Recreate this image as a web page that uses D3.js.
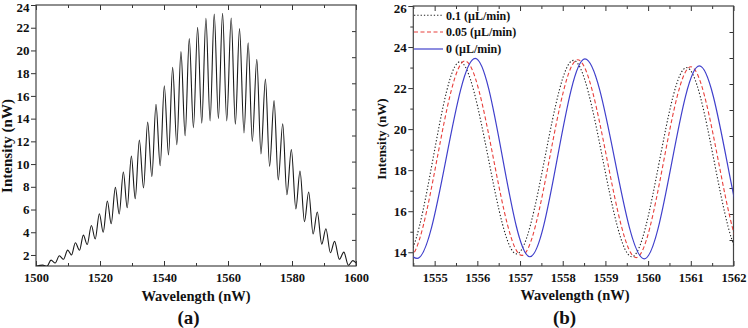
<!DOCTYPE html>
<html><head><meta charset="utf-8">
<script src="https://cdn.jsdelivr.net/npm/d3@7"></script>
<style>
body{margin:0;background:#fff}
svg{display:block}
text{font-family:"Liberation Serif","Times New Roman",serif;font-weight:bold;fill:#111}
</style></head><body>
<svg id="c" width="748" height="328"></svg>
<script>
// ---------- Panel (a) data: extrema of the interference spectrum ----------
const aPeakWl = [1502.1,1504.7,1507.3,1509.9,1512.3,1514.8,1517.3,1519.8,1522.3,1524.8,1527.3,1529.8,1532.3,1534.9,1537.5,1540.1,1542.7,1545.3,1547.9,1550.5,1553.1,1555.7,1558.3,1561.0,1563.6,1566.3,1569.0,1571.7,1574.4,1577.1,1579.8,1582.5,1585.2,1587.9,1590.6,1593.3,1596.2,1599.0];
const aPeakI  = [1.11,1.55,1.93,2.43,3.08,3.75,4.6,5.63,6.75,7.95,9.3,10.71,12.12,13.7,15.26,16.9,18.51,19.9,21.04,22.03,22.83,23.2,23.27,22.86,21.92,20.68,19.22,17.49,15.58,13.55,11.27,9.39,7.54,5.78,4.31,3.2,2.25,1.5];
const aTroughWl = [1500.0,1503.4,1506.0,1508.6,1511.1,1513.6,1516.0,1518.5,1521.0,1523.5,1526.0,1528.5,1531.0,1533.6,1536.2,1538.8,1541.4,1544.0,1546.6,1549.2,1551.8,1554.4,1557.0,1559.6,1562.3,1565.0,1567.6,1570.3,1573.0,1575.7,1578.4,1581.2,1583.9,1586.6,1589.3,1592.0,1594.8,1597.6,1600.0];
const aTroughI  = [1.0,1.0,1.3,1.62,2.0,2.42,2.92,3.4,4.0,4.75,5.6,6.15,6.95,7.9,8.9,9.85,10.8,11.7,12.5,13.2,13.6,13.8,14.0,13.8,13.5,12.75,12.0,10.9,9.8,8.6,7.3,6.05,4.93,3.85,2.95,2.2,1.62,1.1,1.3];
const aXTicks = [1500,1520,1540,1560,1580,1600];
const aXMinor = [1510,1530,1550,1570,1590];
const aYTicks = [2,4,6,8,10,12,14,16,18,20,22,24];

// ---------- Panel (b) data: extrema of three flow rates (incl. just outside the view) ----------
const bNames  = ["0.1 (\u00b5L/min)","0.05 (\u00b5L/min)","0 (\u00b5L/min)"];
const bWl_01  = [1553.0,1554.33,1555.59,1556.92,1558.25,1559.62,1560.9,1562.2,1563.5];
const bI_01   = [23.3,13.8,23.28,13.92,23.35,13.78,23.0,13.8,23.0];
const bWl_005 = [1553.1,1554.4,1555.71,1557.04,1558.35,1559.72,1561.0,1562.3,1563.6];
const bI_005  = [23.3,13.75,23.32,13.85,23.38,13.74,23.04,13.75,23.0];
const bWl_0   = [1553.3,1554.59,1555.95,1557.23,1558.52,1559.91,1561.2,1562.5,1563.8];
const bI_0    = [23.4,13.7,23.45,13.78,23.42,13.68,23.08,13.7,23.0];
const bXTicks = [1555,1556,1557,1558,1559,1560,1561,1562];
const bXMinor = [1554.5,1555.5,1556.5,1557.5,1558.5,1559.5,1560.5,1561.5];
const bYTicks = [14,16,18,20,22,24,26];
const bYMinor = [15,17,19,21,23,25];
const mirrorTicks = [1,2,3,4,5,6,7,8,9];

const svg = d3.select("#c");
const FONT = '"Liberation Serif","Times New Roman",serif';

function styleAxis(g, size){
  g.attr("font-size", size).attr("font-family", FONT).attr("font-weight","bold");
  g.select(".domain").remove();
  g.selectAll(".tick line").attr("stroke","#333").attr("stroke-width",1);
  g.selectAll("text").attr("fill","#111");
}

function panel(o){
  const g = svg.append("g");
  const x = d3.scaleLinear().domain(o.xd).range([o.x0,o.x1]);
  const y = d3.scaleLinear().domain(o.yd).range([o.yb,o.yt]);
  const m = d3.scaleLinear().domain([0,10]).range([o.yb,o.yt]);
  const cid = "clip"+o.id;
  svg.append("clipPath").attr("id",cid).append("rect")
    .attr("x",o.x0).attr("y",o.yt).attr("width",o.x1-o.x0).attr("height",o.yb-o.yt);

  styleAxis(g.append("g").attr("transform",`translate(0,${o.yb})`)
    .call(d3.axisBottom(x).tickValues(o.xt).tickSize(-5).tickPadding(7).tickFormat(d3.format("d"))), o.xFont);
  styleAxis(g.append("g").attr("transform",`translate(0,${o.yb})`)
    .call(d3.axisBottom(x).tickValues(o.xm).tickSize(-3).tickFormat("")), 10);
  styleAxis(g.append("g").attr("transform",`translate(0,${o.yt})`)
    .call(d3.axisTop(x).tickValues(o.xt).tickSize(-5).tickFormat("")), 10);
  styleAxis(g.append("g").attr("transform",`translate(0,${o.yt})`)
    .call(d3.axisTop(x).tickValues(o.xm).tickSize(-3).tickFormat("")), 10);
  const la = g.append("g").attr("transform",`translate(${o.x0},0)`)
    .call(d3.axisLeft(y).tickValues(o.yt_).tickSize(5).tickPadding(1.5).tickFormat(d3.format("d")));
  styleAxis(la, o.yFont);
  la.selectAll("text").attr("dy", d => (y(d) < o.yt + 4) ? "0.5em" : "0.32em");
  if (o.ym) styleAxis(g.append("g").attr("transform",`translate(${o.x0},0)`)
    .call(d3.axisLeft(y).tickValues(o.ym).tickSize(3).tickFormat("")), 10);
  styleAxis(g.append("g").attr("transform",`translate(${o.x1},0)`)
    .call(d3.axisRight(m).tickValues(mirrorTicks).tickSize(-4).tickFormat("")), 10);

  g.append("rect").attr("x",o.x0).attr("y",o.yt).attr("width",o.x1-o.x0).attr("height",o.yb-o.yt)
    .attr("fill","none").attr("stroke","#444").attr("stroke-width",1.2);

  const line = d3.line().x(d=>x(d[0])).y(d=>y(d[1])).curve(d3.curveMonotoneX);
  const sg = g.append("g").attr("clip-path",`url(#${cid})`);
  o.series.forEach(s=>{
    sg.append("path").attr("d", line(s.pts)).attr("fill","none")
      .attr("stroke", s.color).attr("stroke-width", s.w)
      .attr("stroke-dasharray", s.dash || null);
  });

  g.append("text").attr("x",o.xtx).attr("y",o.xty).attr("text-anchor","middle")
    .attr("font-size",14.5).text("Wavelength (nW)");
  g.append("text").attr("transform",`translate(${o.ytx},${o.yty}) rotate(-90)`)
    .attr("text-anchor","middle").attr("font-size",o.ytFont).text("Intensity (nW)");
  g.append("text").attr("x",o.lx).attr("y",324).attr("text-anchor","middle")
    .attr("font-size",19).text(o.label);
  return {g,x,y};
}

const aPts = aPeakWl.map((w,i)=>[w,aPeakI[i]]).concat(aTroughWl.map((w,i)=>[w,aTroughI[i]]))
  .sort((p,q)=>p[0]-q[0]);
panel({id:"a", xd:[1500,1600], yd:[1.03,24], x0:36, x1:356, yt:5, yb:266,
  xt:aXTicks, xm:aXMinor, yt_:aYTicks, ym:null, xFont:12.5, yFont:13,
  series:[{pts:aPts,color:"#1a1a1a",w:1.1}],
  xtx:196, xty:301, ytx:12, yty:146, ytFont:15, lx:188.5, label:"(a)"});

const bSeries = [
  {pts:bWl_01.map((w,i)=>[w,bI_01[i]]),  color:"#222",    w:1.1, dash:"1.3,2"},
  {pts:bWl_005.map((w,i)=>[w,bI_005[i]]),color:"#e8403c", w:1.1, dash:"4,2.5"},
  {pts:bWl_0.map((w,i)=>[w,bI_0[i]]),    color:"#4040cc", w:1.2, dash:null}
];
panel({id:"b", xd:[1554.5,1562], yd:[13.33,26], x0:413.3, x1:733.5, yt:6, yb:266,
  xt:bXTicks, xm:bXMinor, yt_:bYTicks, ym:bYMinor, xFont:12.5, yFont:13,
  series:bSeries,
  xtx:575, xty:300, ytx:386, yty:139, ytFont:13, lx:564.5, label:"(b)"});

const lg = svg.append("g");
const rows = [15.3, 32, 49];
bSeries.forEach((s,i)=>{
  lg.append("line").attr("x1",414).attr("x2",443).attr("y1",rows[i]).attr("y2",rows[i])
    .attr("stroke",s.color).attr("stroke-width",s.w).attr("stroke-dasharray",s.dash||null);
  lg.append("text").attr("x",446).attr("y",rows[i]+4.2).attr("font-size",12).text(bNames[i]);
});
</script>
</body></html>
